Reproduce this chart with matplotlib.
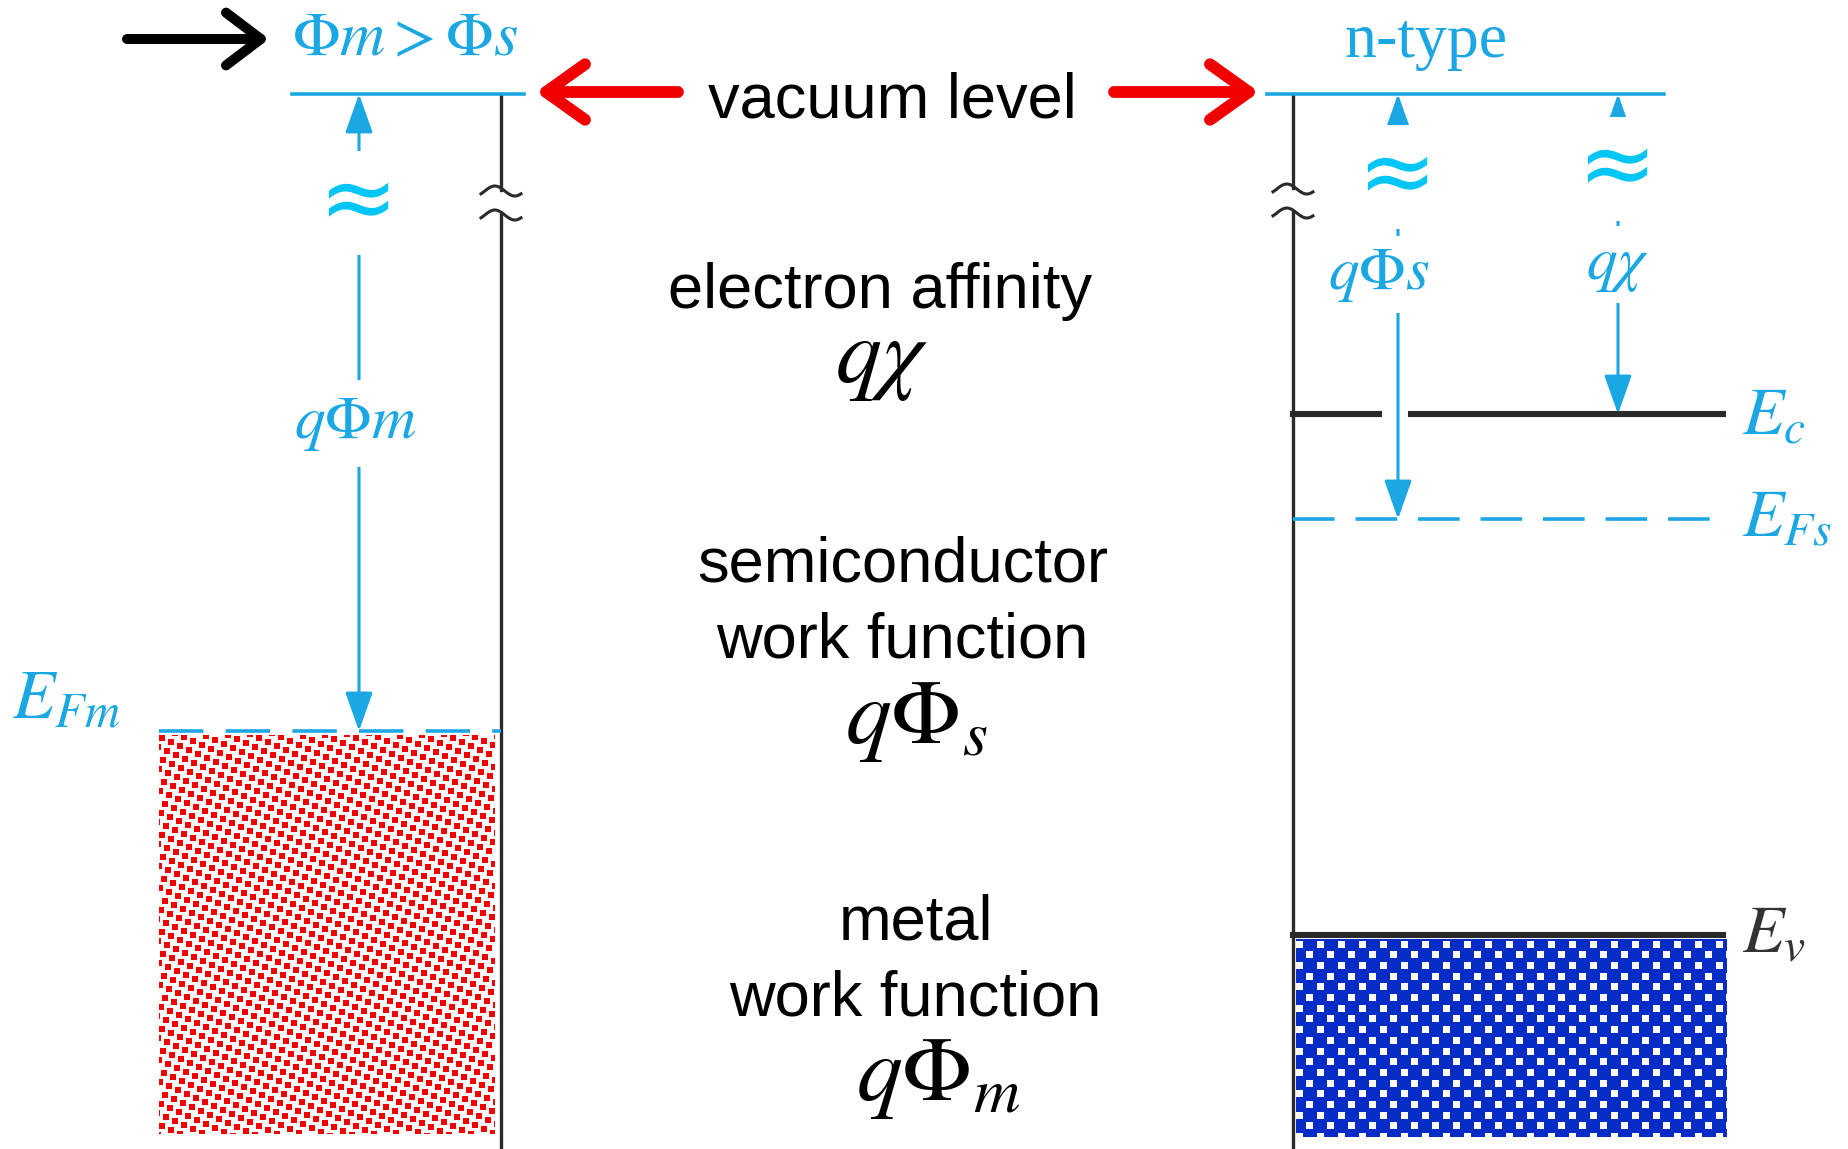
import numpy as np
import matplotlib.pyplot as plt
from matplotlib.patches import FancyArrowPatch

W, H = 1848, 1149

BLUE = "#1ba7e3"
CYAN = "#00c6f7"
RED = "#f20000"
DARK = "#2a2a2a"

# energy levels (pixel rows of the figure, top = 0)
VACUUM_Y = 94
EFM_Y = 731
EC_Y = 414
EFS_Y = 519
EV_Y = 935
BOTTOM_Y = 1149

# horizontal extents
METAL_VAC_X = [292, 524]
METAL_EDGE_X = 501
METAL_FILL_X = [159, 495]
SEMI_VAC_X = [1267, 1664]
SEMI_EDGE_X = 1293
SEMI_RIGHT_X = 1723
EC_GAP_X = [1379, 1411]
SEMI_FILL_X = [1296, 1727]

# arrow columns
PHI_M_X = 359
PHI_S_X = 1398
CHI_X = 1618

center_lines = ["electron affinity", "semiconductor", "work function", "metal", "work function"]
center_x = [880, 903, 902, 916, 915]
center_y = [308, 582, 657, 939, 1015]

center_math = [r"$q\chi$", r"$q\Phi_s$", r"$q\Phi_m$"]
center_math_x = [882, 916, 938]
center_math_y = [382, 743, 1100]

plt.rcParams["mathtext.fontset"] = "stix"
plt.rcParams["lines.scale_dashes"] = False

fig = plt.figure(figsize=(W / 100, H / 100), dpi=100)
ax = fig.add_axes([0, 0, 1, 1])


def texture_red(w, h):
    img = np.ones((h, w, 3))
    for i in range(-60, 80):
        for j in range(-40, 80):
            x = 9 * i - 4 * j
            y = 4 * i + 9 * j
            if -6 < x < w and -6 < y < h:
                img[max(y, 0):y + 6, max(x, 0):x + 6] = (0.96, 0.0, 0.0)
    return img


def texture_blue(w, h):
    img = np.zeros((h, w, 3))
    img[:] = (0.02, 0.18, 0.78)
    for j in range(0, h // 10 + 2):
        for i in range(-1, w // 21 + 2):
            x = int(21 * i + (j % 2) * 10.5)
            y = int(10.7 * j) + 2
            if -7 < x < w and -7 < y < h:
                img[max(y, 0):y + 7, max(x, 0):x + 7] = (1.0, 1.0, 1.0)
    return img


# filled bands
rw, rh = METAL_FILL_X[1] - METAL_FILL_X[0], 1134 - (EFM_Y + 4)
ax.imshow(texture_red(rw, rh), extent=(METAL_FILL_X[0], METAL_FILL_X[1], 1134, EFM_Y + 4),
          interpolation="nearest", aspect="auto", zorder=1)
bw, bh = SEMI_FILL_X[1] - SEMI_FILL_X[0], 1137 - (EV_Y + 4)
ax.imshow(texture_blue(bw, bh), extent=(SEMI_FILL_X[0], SEMI_FILL_X[1], 1137, EV_Y + 4),
          interpolation="nearest", aspect="auto", zorder=1)

# vacuum levels
ax.plot(METAL_VAC_X, [VACUUM_Y] * 2, color=BLUE, lw=2.6, zorder=3)
ax.plot(SEMI_VAC_X, [VACUUM_Y] * 2, color=BLUE, lw=2.6, zorder=3)

# metal / semiconductor edges with breaks
for x, gap in [(METAL_EDGE_X, (190, 214)), (SEMI_EDGE_X, (188, 212))]:
    ax.plot([x, x], [VACUUM_Y, gap[0]], color=DARK, lw=2.4, zorder=2)
    ax.plot([x, x], [gap[1], BOTTOM_Y], color=DARK, lw=2.4, zorder=2)
    t = np.linspace(0, 1, 60)
    for yc in gap:
        ax.plot(x + (t - 0.5) * 40, yc - 5 * np.sin(2 * np.pi * t - 0.6) + 1,
                color=DARK, lw=2.2, zorder=2)

# Fermi levels and band edges
ax.plot([METAL_FILL_X[0], METAL_EDGE_X], [EFM_Y] * 2, color=BLUE, lw=2.6,
        dashes=(32, 16), zorder=3)
ax.plot([SEMI_EDGE_X, SEMI_RIGHT_X], [EFS_Y] * 2, color=BLUE, lw=2.6,
        dashes=(30, 15), zorder=3)
ax.plot([SEMI_EDGE_X, EC_GAP_X[0]], [EC_Y] * 2, color=DARK, lw=4.4, zorder=3)
ax.plot([EC_GAP_X[1], SEMI_RIGHT_X], [EC_Y] * 2, color=DARK, lw=4.4, zorder=3)
ax.plot([SEMI_EDGE_X, SEMI_RIGHT_X], [EV_Y] * 2, color=DARK, lw=4.4, zorder=3)

# blue double arrows
for x, y0, y1 in [(PHI_M_X, EFM_Y, VACUUM_Y), (PHI_S_X, EFS_Y, VACUUM_Y), (CHI_X, EC_Y, VACUUM_Y)]:
    ax.add_patch(FancyArrowPatch((x, y0), (x, y1),
                                 arrowstyle="<|-|>,head_length=2.4,head_width=0.85",
                                 mutation_scale=10, color=BLUE, lw=2.2,
                                 shrinkA=0, shrinkB=0, zorder=4))

white_box = dict(fc="white", ec="none", pad=4)
for x, y in [(PHI_M_X, 203), (PHI_S_X, 177), (CHI_X, 169)]:
    ax.text(x, y, "\u2248", color=CYAN, fontsize=68, family="DejaVu Sans",
            ha="center", va="center", zorder=6, bbox=white_box)

ax.text(355, 438, r"$q\Phi m$", color=BLUE, fontsize=44, ha="center", va="baseline",
        zorder=6, bbox=dict(fc="white", ec="none", pad=10))
ax.text(1379, 289, r"$q\Phi s$", color=BLUE, fontsize=44, ha="center", va="baseline",
        zorder=6, bbox=dict(fc="white", ec="none", pad=6))
ax.text(1618, 279, r"$q\chi$", color=BLUE, fontsize=44, ha="center", va="baseline",
        zorder=6, bbox=dict(fc="white", ec="none", pad=6))

# level labels
ax.text(12, 718, r"$E_{Fm}$", color=BLUE, fontsize=50, ha="left", va="baseline")
ax.text(1742, 434, r"$E_c$", color=BLUE, fontsize=49, ha="left", va="baseline")
ax.text(1742, 537, r"$E_{Fs}$", color=BLUE, fontsize=49, ha="left", va="baseline")
ax.text(1742, 952, r"$E_v$", color="#333333", fontsize=49, ha="left", va="baseline")

# header
ax.text(292, 55, r"$\Phi m > \Phi s$", color=BLUE, fontsize=45, ha="left", va="baseline")
ax.text(1426, 57, "n-type", color=BLUE, fontsize=46, family="Liberation Serif",
        ha="center", va="baseline")
ax.add_patch(FancyArrowPatch((127, 39), (269, 39), arrowstyle="->,head_length=2.5,head_width=1.9",
                             mutation_scale=10, color="black", lw=7.2,
                             capstyle="round", joinstyle="round", shrinkA=0, shrinkB=0, zorder=5))

ax.text(892, 118, "vacuum level", color="black", fontsize=45.5, family="Liberation Sans",
        ha="center", va="baseline")
for x0, x1 in [(678, 536), (1114, 1259)]:
    ax.add_patch(FancyArrowPatch((x0, 92), (x1, 92), arrowstyle="->,head_length=2.8,head_width=2.0",
                                 mutation_scale=10, color=RED, lw=8.5,
                                 capstyle="round", joinstyle="round", shrinkA=0, shrinkB=0, zorder=5))

# centre explanation
for txt, x, y in zip(center_lines, center_x, center_y):
    ax.text(x, y, txt, color="black", fontsize=45.5, family="Liberation Sans",
            ha="center", va="baseline")
for txt, x, y in zip(center_math, center_math_x, center_math_y):
    ax.text(x, y, txt, color="black", fontsize=66,
            ha="center", va="baseline")

ax.set_xlim(0, W)
ax.set_ylim(H, 0)
ax.axis("off")
fig.savefig("out.png", dpi=100, facecolor="white")
